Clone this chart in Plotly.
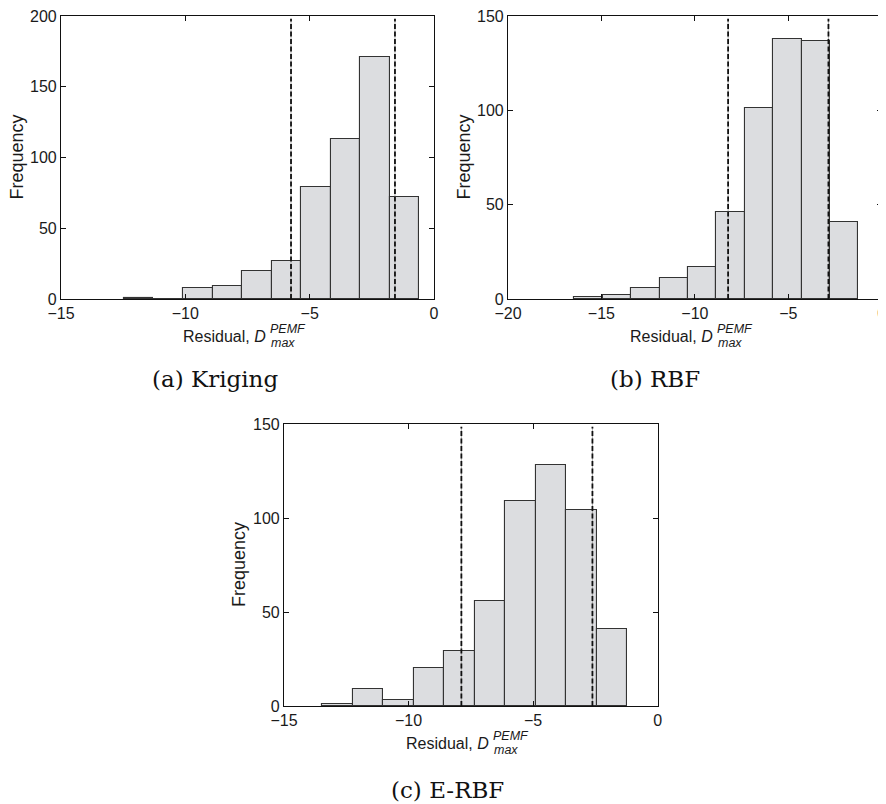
import numpy as np
import plotly.graph_objects as go

# ---------------- data ----------------
kriging_counts = [1, 0, 8, 9, 20, 27, 79, 113, 171, 72]
kriging_range = [-12.47, -0.59]
kriging_bounds = [-5.75, -1.57]

rbf_counts = [1, 2, 6, 11, 17, 46, 101, 138, 137, 41]
rbf_range = [-16.45, -1.25]
rbf_bounds = [-8.22, -2.85]

erbf_counts = [1, 9, 3, 20, 29, 56, 109, 128, 104, 41]
erbf_range = [-13.46, -1.23]
erbf_bounds = [-7.88, -2.62]

x_ranges = [[-15, 0], [-20, 0], [-15, 0]]
y_ranges = [[0, 200], [0, 150], [0, 150]]
captions = ["(a) Kriging", "(b) RBF", "(c) E-RBF"]

# page has an 8px body margin: figure drawn 8px in from the window edge
OFF = 8
W, H = 886 - OFF, 804 - OFF
# axes boxes in window pixels (left, right, top, bottom)
boxes = [(61, 434, 16, 299), (508, 881.7, 16, 299), (284, 657.7, 424, 706)]
caption_pos = [(215, 379), (655, 379), (447, 790)]

SANS = "Liberation Sans, Arial, sans-serif"
TICKFONT = dict(family=SANS, size=16, color="#1a1a1a")


def fx(p):
    return (p - OFF) / W


def fy(p):
    return 1 - (p - OFF) / H


fig = go.Figure()

series = [(kriging_counts, kriging_range, kriging_bounds),
          (rbf_counts, rbf_range, rbf_bounds),
          (erbf_counts, erbf_range, erbf_bounds)]

for i, ((counts, rng, bounds), box) in enumerate(zip(series, boxes)):
    n = len(counts)
    edges = np.linspace(rng[0], rng[1], n + 1)
    centers = (edges[:-1] + edges[1:]) / 2
    width = edges[1] - edges[0]
    xa = "x" if i == 0 else f"x{i+1}"
    ya = "y" if i == 0 else f"y{i+1}"
    fig.add_trace(go.Bar(
        x=centers, y=counts, width=width,
        marker=dict(color="#dcdde0", line=dict(color="#333333", width=1.1)),
        xaxis=xa, yaxis=ya, showlegend=False, hoverinfo="x+y"))
    l, r, t, b = box
    xkey = "xaxis" if i == 0 else f"xaxis{i+1}"
    ykey = "yaxis" if i == 0 else f"yaxis{i+1}"
    common = dict(showline=True, linecolor="#111", linewidth=1.2, mirror="ticks",
                  ticks="inside", ticklen=5, tickcolor="#111", tickwidth=1,
                  showgrid=False, zeroline=False, tickfont=TICKFONT, automargin=False,
                  ticklabeloverflow="allow")
    fig.update_layout(**{
        xkey: dict(domain=[fx(l), min(fx(r), 1.0)], range=x_ranges[i], dtick=5, tick0=0,
                   anchor=ya, **common),
        ykey: dict(domain=[fy(b), fy(t)], range=y_ranges[i], dtick=50,
                   anchor=xa, **common),
    })
    # dash-dot bound lines
    for xv in bounds:
        fig.add_shape(type="line", xref=xa, yref=f"{ya} domain", x0=xv, x1=xv,
                      y0=0, y1=0.99, line=dict(color="#9a9a9a", width=0.8))
        fig.add_shape(type="line", xref=xa, yref=f"{ya} domain", x0=xv, x1=xv,
                      y0=0, y1=0.99, line=dict(color="#111", width=1.8, dash="5px,2.5px"))
    # y title
    fig.add_annotation(text="Frequency", textangle=-90, xref="paper", yref="paper",
                       x=fx(l - 45), y=fy((t + b) / 2), showarrow=False,
                       xanchor="center", yanchor="middle",
                       font=dict(family=SANS, size=18, color="#1a1a1a"))
    # x title: Residual, D^{PEMF}_{max}
    cx = (l + r) / 2 + 20
    cy = b + 37
    fig.add_annotation(text="Residual, <i>D</i>", xref="paper", yref="paper",
                       x=fx(cx), y=fy(cy), showarrow=False, xanchor="right", yanchor="middle",
                       font=dict(family=SANS, size=16, color="#1a1a1a"))
    fig.add_annotation(text="<i>PEMF</i>", xref="paper", yref="paper",
                       x=fx(cx + 0.5), y=fy(cy - 7), showarrow=False, xanchor="left", yanchor="middle",
                       font=dict(family=SANS, size=12.5, color="#1a1a1a"))
    fig.add_annotation(text="<i>max</i>", xref="paper", yref="paper",
                       x=fx(cx + 1.5), y=fy(cy + 7), showarrow=False, xanchor="left", yanchor="middle",
                       font=dict(family=SANS, size=12.5, color="#1a1a1a"))
    # caption
    px, py = caption_pos[i]
    fig.add_annotation(text=captions[i], xref="paper", yref="paper", x=fx(px), y=fy(py),
                       showarrow=False, xanchor="center", yanchor="middle",
                       font=dict(family="DejaVu Serif, serif", size=23, color="#111"))

fig.update_layout(width=W, height=H, margin=dict(l=0, r=0, t=0, b=0, autoexpand=False),
                  paper_bgcolor="white", plot_bgcolor="white", bargap=0,
                  showlegend=False)

fig.write_html("out.html")
